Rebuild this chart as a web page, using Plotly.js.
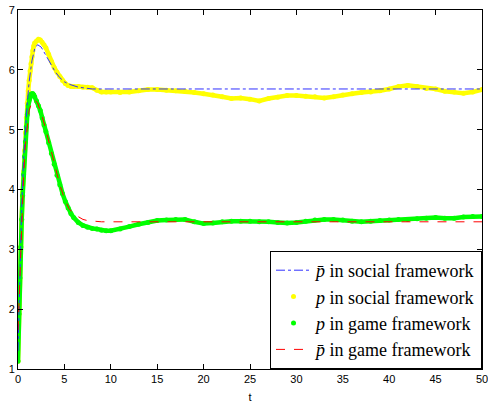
<!DOCTYPE html>
<html>
<head>
<meta charset="utf-8">
<script src="https://cdn.plot.ly/plotly-3.0.1.min.js"></script>
<style>html,body{margin:0;padding:0;background:#fff;}#chart{width:488px;height:403px;}</style>
</head>
<body>
<div id="chart"></div>
<script>
// p-bar in social framework (dash-dot blue)
const tBlue = [0,0.2,0.4,0.6,0.8,1.0,1.2,1.5,1.8,2.1,2.5,3,3.5,4,4.5,5,5.5,6,6.5,7,8,9,10,50];
const yBlue = [1.3,2.6,3.7,4.5,5.0,5.45,5.8,6.15,6.35,6.42,6.38,6.25,6.1,5.97,5.87,5.8,5.76,5.73,5.71,5.7,5.68,5.68,5.68,5.68];

// p-bar in game framework (dashed red)
const tRed = [0,0.2,0.4,0.6,0.8,1.0,1.2,1.5,1.8,2.1,2.5,3,3.5,4,4.5,5,5.5,6,6.5,7,7.5,8,9,10,50];
const yRed = [1.65,2.6,3.5,4.2,4.75,5.1,5.32,5.47,5.5,5.45,5.28,5.0,4.68,4.36,4.08,3.85,3.68,3.59,3.54,3.5,3.48,3.47,3.46,3.46,3.46];

// sample times for the simulated p series
const tSim = [0,0.1,0.2,0.3,0.4,0.5,0.6,0.7,0.8,0.9,1.0,1.1,1.2,1.3,1.4,1.5,1.6,1.7,1.8,2.0,2.2,2.4,2.6,2.8,3.0,3.3,3.6,3.9,4.2,4.5,4.8,5.1,5.4,5.7,6.0,6.5,7,7.5,8,8.5,9,9.5,10,11,12,13,14,15,16,17,18,19,20,21,22,23,24,25,26,27,28,29,30,31,32,33,34,35,36,37,38,39,40,41,42,43,44,45,46,47,48,49,50];

// p in social framework (yellow dots)
const yYellow = [1.13,1.92,2.52,3.04,3.5,3.95,4.3,4.65,4.95,5.2,5.44,5.65,5.82,5.98,6.1,6.22,6.32,6.4,6.45,6.48,6.51,6.5,6.46,6.42,6.37,6.26,6.14,6.04,5.96,5.89,5.82,5.77,5.74,5.72,5.72,5.72,5.71,5.71,5.7,5.66,5.63,5.63,5.63,5.62,5.63,5.65,5.67,5.67,5.66,5.65,5.64,5.62,5.6,5.58,5.55,5.52,5.53,5.51,5.48,5.52,5.54,5.57,5.57,5.56,5.55,5.53,5.55,5.58,5.6,5.62,5.63,5.65,5.68,5.72,5.74,5.72,5.69,5.68,5.64,5.63,5.61,5.63,5.67];

// p in game framework (green dots)
const yGreen = [1.13,1.92,2.52,3.04,3.5,3.9,4.25,4.55,4.8,5.05,5.25,5.4,5.5,5.56,5.59,5.6,5.6,5.58,5.55,5.48,5.4,5.32,5.2,5.08,4.97,4.78,4.6,4.42,4.24,4.08,3.93,3.8,3.69,3.6,3.53,3.45,3.4,3.37,3.35,3.34,3.32,3.31,3.31,3.34,3.38,3.42,3.45,3.48,3.49,3.5,3.5,3.46,3.43,3.44,3.46,3.47,3.47,3.47,3.46,3.46,3.45,3.44,3.45,3.47,3.49,3.5,3.5,3.49,3.47,3.46,3.47,3.48,3.49,3.5,3.5,3.51,3.52,3.53,3.52,3.52,3.54,3.55,3.55];

const legendNames = ['<i>p̄</i> in social framework','<i>p</i> in social framework','<i>p</i> in game framework','<i>p̄</i> in game framework'];

const traces = [
  {x:tSim,y:yYellow,mode:'lines',line:{color:'#ffff00',width:4.5},showlegend:false,hoverinfo:'skip',legendgroup:'g2'},
  {x:tSim,y:yYellow,mode:'markers',marker:{color:'#ffff00',size:5},name:legendNames[1],legendgroup:'g2',legendrank:2},
  {x:tSim,y:yGreen,mode:'lines',line:{color:'#00ff00',width:4.5},showlegend:false,hoverinfo:'skip',legendgroup:'g3'},
  {x:tSim,y:yGreen,mode:'markers',marker:{color:'#00ff00',size:5},name:legendNames[2],legendgroup:'g3',legendrank:3},
  {x:tBlue,y:yBlue,mode:'lines',line:{color:'#3030ff',width:1,dash:'dashdot'},name:legendNames[0],legendgroup:'g1',legendrank:1},
  {x:tRed,y:yRed,mode:'lines',line:{color:'#ff0000',width:1,dash:'dash'},name:legendNames[3],legendgroup:'g4',legendrank:4}
];

const axisCommon = {
  showline:true, linecolor:'#000', linewidth:1, mirror:'ticks',
  ticks:'inside', ticklen:5, tickcolor:'#000', showgrid:false, zeroline:false,
  ticklabeloverflow:'allow',
  tickfont:{family:'Liberation Sans, Arial, sans-serif', size:11, color:'#000'}
};

const layout = {
  width:488, height:403,
  margin:{l:17.5, r:6, t:10, b:34},
  paper_bgcolor:'#fff', plot_bgcolor:'#fff',
  xaxis:Object.assign({}, axisCommon, {range:[0,50], tickvals:[0,5,10,15,20,25,30,35,40,45,50],
    title:{text:'t', standoff:9, font:{family:'Liberation Sans, Arial, sans-serif', size:11, color:'#000'}}}),
  yaxis:Object.assign({}, axisCommon, {range:[1,7], tickvals:[1,2,3,4,5,6,7]}),
  legend:{x:1, xanchor:'right', y:0, yanchor:'bottom', bgcolor:'#fff', bordercolor:'#000', borderwidth:1,
    font:{family:'"Times New Roman", "Liberation Serif", "DejaVu Serif", serif', size:18, color:'#000'},
    traceorder:'grouped', tracegroupgap:0, itemwidth:35},
  showlegend:true
};

Plotly.newPlot('chart', traces, layout, {staticPlot:true, displayModeBar:false});
</script>
</body>
</html>
